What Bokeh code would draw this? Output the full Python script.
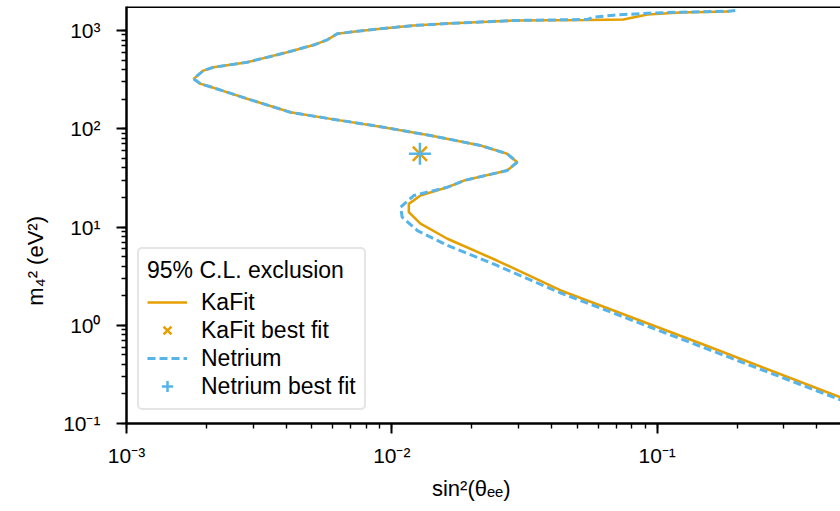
import numpy as np
from bokeh.plotting import figure
from bokeh.models import (Range1d, LogTicker, CustomJSTickFormatter, Legend, LegendItem, Span, Title)
from bokeh.embed import file_html
from bokeh.resources import INLINE

# --- data ---
kafit_x = [0.186, 0.1225, 0.092, 0.0746, 0.0547, 0.0288, 0.01622, 0.01208, 0.00905, 0.00742,
           0.00622, 0.00571, 0.00515, 0.00404, 0.00285, 0.00213, 0.00195, 0.00179, 0.00190,
           0.00213, 0.00285, 0.00415, 0.00588, 0.00905, 0.0140, 0.0216, 0.0272, 0.0297,
           0.0272, 0.0187, 0.0162, 0.01282, 0.01159, 0.01159, 0.01282, 0.0162, 0.0249,
           0.0433, 0.146, 0.491, 1.0]
kafit_y = [1561, 1525, 1456, 1294, 1279, 1264, 1178, 1124, 1041, 984,
           925, 804, 721, 601, 475, 423, 391, 322, 287,
           261, 202, 147, 126, 105, 85.3, 67.6, 55.6, 45.7,
           37.6, 29.7, 25.4, 20.9, 17.2, 14.2, 10.8, 7.59, 4.56,
           2.26, 0.652, 0.185, 0.091]

netrium_x = [0.197, 0.186, 0.1225, 0.092, 0.0686, 0.0575, 0.0547, 0.0288, 0.01622, 0.01208,
             0.00905, 0.00742, 0.00622, 0.00571, 0.00515, 0.00404, 0.00285, 0.00213, 0.00195,
             0.00179, 0.00190, 0.00213, 0.00285, 0.00415, 0.00588, 0.00905, 0.0140, 0.0216,
             0.0272, 0.0297, 0.0272, 0.0187, 0.0162, 0.0121, 0.01079, 0.01094, 0.01248,
             0.0162, 0.0249, 0.0433, 0.146, 0.491, 1.0]
netrium_y = [1600, 1571, 1535, 1501, 1432, 1366, 1295, 1264, 1178, 1124,
             1041, 984, 925, 804, 721, 601, 475, 423, 391,
             322, 287, 261, 202, 147, 126, 105, 85.3, 67.6,
             55.6, 45.7, 37.6, 29.7, 25.4, 20.9, 15.9, 12.6, 9.20,
             6.49, 4.06, 2.13, 0.608, 0.174, 0.085]

kafit_best_x = [0.01276]
kafit_best_y = [55.6]
netrium_best_x = [0.01276]
netrium_best_y = [55.6]

x_limits = (1e-3, 0.491)
y_limits = (0.1, 1755)

x_label = "sin\u00b2(\u03b8\u2091\u2091)"
y_label = "m\u2084\u00b2 (eV\u00b2)"

ORANGE = "#E69F00"
BLUE = "#56B4E9"
FONT = "Liberation Sans"
NBSP = "\u00a0"

p = figure(x_axis_type="log", y_axis_type="log",
           frame_width=714, frame_height=417,
           min_border_left=126, min_border_right=0, min_border_top=6, min_border_bottom=86,
           x_range=Range1d(*x_limits), y_range=Range1d(*y_limits),
           output_backend="svg", toolbar_location=None)

p.grid.visible = False
p.outline_line_color = None
p.background_fill_color = "white"
p.border_fill_color = "white"

xax = p.xaxis[0]
yax = p.yaxis[0]

# top spine
p.add_layout(Span(location=y_limits[1], dimension="width", line_color="black", line_width=3))

fmt = CustomJSTickFormatter(code="""
const sup = {'-':'\u207b','0':'\u2070','1':'\u00b9','2':'\u00b2','3':'\u00b3','4':'\u2074',
             '5':'\u2075','6':'\u2076','7':'\u2077','8':'\u2078','9':'\u2079'};
const e = Math.round(Math.log10(tick));
return '10' + String(e).split('').map(c => sup[c]).join('');
""")

for ax in (xax, yax):
    ax.ticker = LogTicker(num_minor_ticks=10)
    ax.formatter = fmt
    ax.axis_line_width = 2.5
    ax.axis_line_color = "black"
    ax.major_tick_line_color = "black"
    ax.minor_tick_line_color = "black"
    ax.major_tick_line_width = 2
    ax.minor_tick_line_width = 1.4
    ax.major_tick_out = 10
    ax.major_tick_in = 0
    ax.minor_tick_out = 5
    ax.minor_tick_in = 0
    ax.major_label_text_font = FONT
    ax.major_label_text_font_size = "21px"
    ax.major_label_text_color = "black"

xax.major_label_standoff = 10
yax.major_label_standoff = 16

# axis titles as side titles; trailing no-break spaces shift the centred text
p.add_layout(Title(text=x_label + NBSP * 4, align="center", standoff=8,
                   text_font=FONT, text_font_size="22px", text_font_style="normal",
                   text_color="black"), "below")
p.add_layout(Title(text=y_label + NBSP * 15, align="center", standoff=25,
                   text_font=FONT, text_font_size="22px", text_font_style="normal",
                   text_color="black"), "left")

r_k = p.line(kafit_x, kafit_y, line_color=ORANGE, line_width=2.5)
r_n = p.line(netrium_x, netrium_y, line_color=BLUE, line_width=3, line_dash="8 4")
r_kb = p.scatter(kafit_best_x, kafit_best_y, marker="x", size=20, line_color=ORANGE, line_width=2.5)
r_nb = p.scatter(netrium_best_x, netrium_best_y, marker="cross", size=22, line_color=BLUE, line_width=2.5)

legend = Legend(items=[
    LegendItem(label="KaFit", renderers=[r_k]),
    LegendItem(label="KaFit best fit", renderers=[r_kb]),
    LegendItem(label="Netrium", renderers=[r_n]),
    LegendItem(label="Netrium best fit", renderers=[r_nb]),
], location=(11, 13), title="95% C.L. exclusion")
legend.title_text_font = FONT
legend.title_text_font_size = "23px"
legend.title_text_font_style = "normal"
legend.title_text_color = "black"
legend.title_standoff = 4
legend.label_text_font = FONT
legend.label_text_font_size = "23px"
legend.label_text_color = "black"
legend.label_standoff = 14
legend.glyph_width = 40
legend.glyph_height = 28
legend.label_height = 28
legend.spacing = 0
legend.padding = 8
legend.margin = 0
legend.border_line_color = "#cccccc"
legend.border_line_width = 2
legend.background_fill_alpha = 0.85
if "border_radius" in Legend.properties():
    legend.border_radius = 5
p.add_layout(legend, "center")

open("out.html", "w").write(file_html(p, INLINE))
